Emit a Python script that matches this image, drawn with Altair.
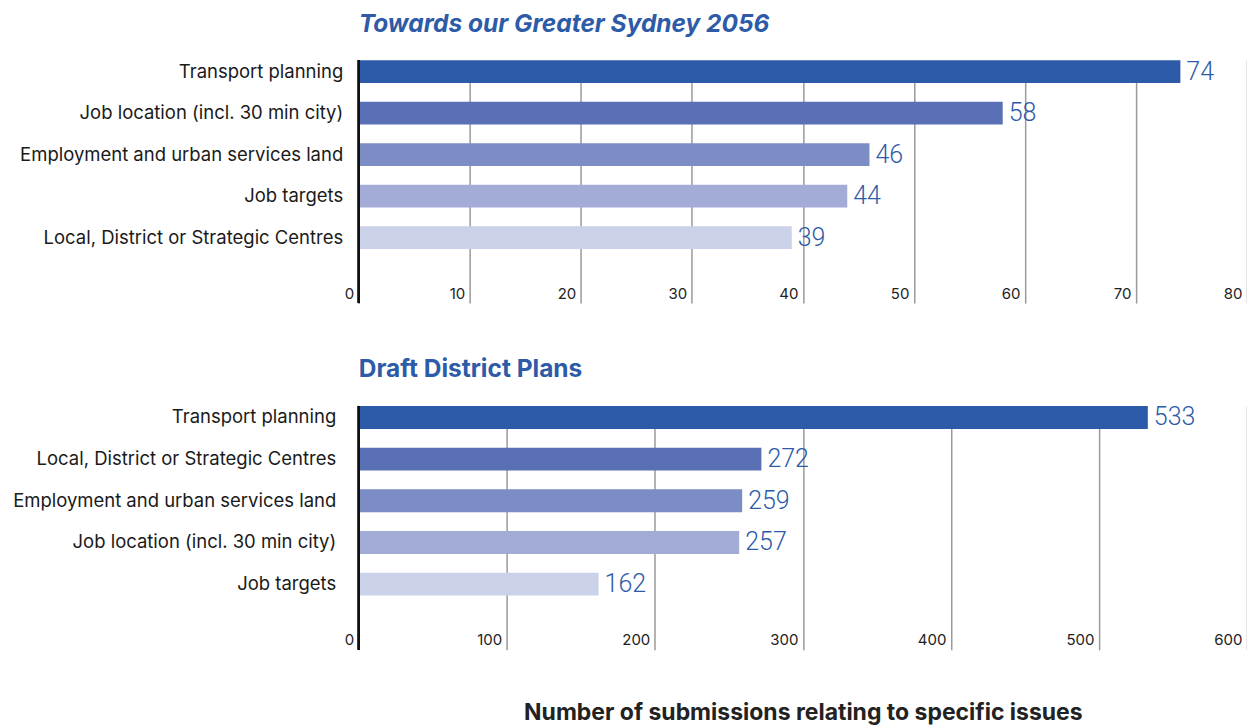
import altair as alt
import pandas as pd

top_cats = ["Transport planning", "Job location (incl. 30 min city)",
            "Employment and urban services land", "Job targets",
            "Local, District or Strategic Centres"]
top_vals = [74, 58, 46, 44, 39]
top_ticks = [0, 10, 20, 30, 40, 50, 60, 70, 80]

bot_cats = ["Transport planning", "Local, District or Strategic Centres",
            "Employment and urban services land", "Job location (incl. 30 min city)",
            "Job targets"]
bot_vals = [533, 272, 259, 257, 162]
bot_ticks = [0, 100, 200, 300, 400, 500, 600]

rank_colors = ["#2c5aa8", "#5a70b5", "#7c8cc4", "#a3acd7", "#ccd1ea"]
BLUE = "#2d5ba8"
FONT = "Inter"
W = 889


def panel(cats, vals, ticks, title, italic, label_pad, height, axis_title=None):
    df = pd.DataFrame({"issue": cats, "value": vals, "rank": list(range(len(cats)))})
    base = alt.Chart(df)
    y = alt.Y("issue:N", sort=cats,
              scale=alt.Scale(paddingInner=0.45, paddingOuter=0.65, align=0),
              axis=alt.Axis(title=None, domain=False, ticks=False, labelPadding=label_pad,
                            labelFontSize=18.5, labelColor="#1a1a1a", labelFont=FONT,
                            labelLimit=500))
    axis_kw = dict(values=ticks, grid=True, gridColor="#9a9a9a", gridWidth=1.5,
                   domain=False, ticks=False, labelAlign="right", labelBaseline="bottom",
                   labelPadding=-2, labelOffset=-5, labelFontSize=15,
                   labelColor="#222222", labelFont=FONT)
    if axis_title:
        axis_kw.update(title=axis_title, titleFont=FONT, titleFontSize=23,
                       titleFontWeight="bold", titleColor="#222222", titleX=W / 2,
                       titleY=70, titleBaseline="alphabetic", titleAlign="center")
    else:
        axis_kw.update(title=None)
    x = alt.X("value:Q", scale=alt.Scale(domain=[ticks[0], ticks[-1]], nice=False),
              axis=alt.Axis(**axis_kw))
    bars = base.mark_bar().encode(
        x=x, y=y,
        color=alt.Color("rank:O", scale=alt.Scale(domain=list(range(5)), range=rank_colors),
                        legend=None))
    text = base.mark_text(align="left", baseline="middle", dx=6, fontSize=25,
                          fontWeight=300, color=BLUE, font="Roboto").encode(
        x="value:Q", y=alt.Y("issue:N", sort=cats), text="value:Q")
    zero = base.mark_rule(color="#111111", strokeWidth=2).encode(x=alt.datum(0))
    return alt.layer(bars, text, zero).properties(
        width=W, height=height,
        title=alt.TitleParams(title, font=FONT, fontSize=24.5, fontWeight="bold",
                              fontStyle="italic" if italic else "normal", color=BLUE,
                              anchor="start", frame="group", offset=22))


top = panel(top_cats, top_vals, top_ticks, "Towards our Greater Sydney 2056", True, 16, 243)
bottom = panel(bot_cats, bot_vals, bot_ticks, "Draft District Plans", False, 23, 244,
               axis_title="Number of submissions relating to specific issues")

chart = alt.vconcat(top, bottom, spacing=53).properties(
    padding={"top": 3, "left": 4, "right": 0, "bottom": 0}).configure_view(stroke=None)

chart.save("out.html", embed_options={"renderer": "svg", "actions": False})
